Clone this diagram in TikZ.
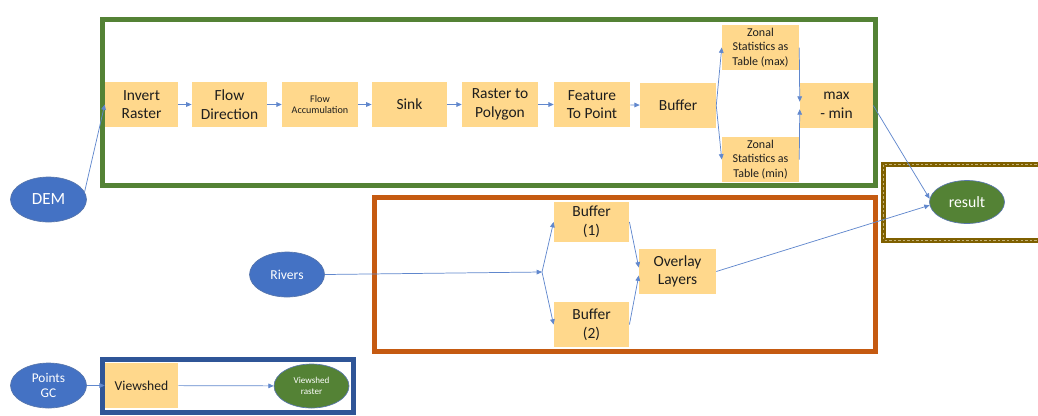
\documentclass[tikz,border=0pt]{standalone}
\usepackage{fontspec}
\setmainfont{Carlito}
\usetikzlibrary{arrows.meta,shapes,calc}
\definecolor{toolfill}{RGB}{255,216,140}
\definecolor{inputblue}{RGB}{68,114,196}
\definecolor{outgreen}{RGB}{84,130,53}
\definecolor{framegreen}{RGB}{84,130,53}
\definecolor{frameorange}{RGB}{197,90,17}
\definecolor{frameblue}{RGB}{47,85,151}
\definecolor{frameolive}{RGB}{127,96,0}
\definecolor{framedash}{RGB}{196,178,120}
\definecolor{textdark}{RGB}{30,30,30}

\begin{document}
\begin{tikzpicture}[x=0.75pt, y=-0.75pt, >={Triangle[length=4pt,width=3.5pt]},
  tool/.style={rectangle, fill=toolfill, text=textdark, align=center, inner sep=0pt,
    minimum width=56.5pt, minimum height=33.75pt, font=\fontsize{11.6}{14}\selectfont},
  zonal/.style={tool, minimum width=57.75pt, font=\fontsize{9}{11}\selectfont},
  source/.style={ellipse, fill=inputblue, draw=frameblue!80, line width=0.5pt, text=white,
    align=center, inner sep=0pt, minimum width=57pt, minimum height=33.75pt},
  product/.style={source, fill=outgreen},
  flow/.style={->, inputblue!85, line width=0.55pt}]

\useasboundingbox (0,0) rectangle (1038,415);

% group frames
\draw[framegreen, line width=3.75pt] (102.5,19.5) rectangle (875.5,185.5);
\draw[frameorange, line width=3.75pt] (374.5,197.5) rectangle (875.5,351.5);
\draw[frameblue, line width=3.75pt] (102.5,359.5) rectangle (353.5,412.5);
\draw[frameolive, line width=3.75pt] (883.5,164.5) rectangle (1045,240.5);
\draw[framedash, line width=0.7pt, dash pattern=on 1.8pt off 1.6pt] (883.5,164.5) rectangle (1045,240.5);

% DEM chain
\node[source, font=\fontsize{12.8}{14}\selectfont] (dem) at (48.5,199.5) {DEM};
\node[tool, minimum width=54.75pt] (inv) at (141.5,104.5) {Invert\\Raster};
\node[tool] (fdir) at (229.5,104.5) {Flow\\Direction};
\node[tool, minimum width=57pt, font=\fontsize{7.6}{8.6}\selectfont] (facc) at (320,104.5) {Flow\\Accumulation};
\node[tool] (sink) at (409.5,104.5) {Sink};
\node[tool, minimum width=57pt] (rtp) at (500,104.5) {Raster to\\Polygon};
\node[tool, minimum width=57pt] (ftp) at (592,104.5) {Feature\\To Point};
\node[tool, minimum width=57pt] (buf) at (678,105.5) {Buffer};
\node[zonal] (zmax) at (760.5,47.5) {Zonal\\Statistics as\\Table (max)};
\node[zonal] (zmin) at (760.5,159.5) {Zonal\\Statistics as\\Table (min)};
\node[tool, minimum width=54.75pt] (maxmin) at (836.5,105.5) {max\\- min};

\draw[flow] (dem.12) -- (inv.west);
\draw[flow] (inv) -- (fdir);
\draw[flow] (fdir) -- (facc);
\draw[flow] (facc) -- (sink);
\draw[flow] (sink) -- (rtp);
\draw[flow] (rtp) -- (ftp);
\draw[flow] (ftp) -- (buf);
\draw[flow] (buf.east) -- (zmax.west);
\draw[flow] (buf.east) -- (zmin.west);
\draw[flow] (zmax.east) -- (maxmin.174);
\draw[flow] (zmin.east) -- (maxmin.186);

% rivers chain
\node[source, minimum width=56.25pt, font=\fontsize{10.2}{12}\selectfont] (rivers) at (287,274.5) {Rivers};
\coordinate (split) at (542,272);
\node[tool, minimum height=30pt] (buf1) at (591.5,222) {Buffer\\(1)};
\node[tool] (buf2) at (591.5,324.5) {Buffer\\(2)};
\node[tool, minimum width=57.75pt] (overlay) at (677.5,271.5) {Overlay\\Layers};

\draw[flow] (rivers.east) -- (split);
\draw[flow] (split) -- (buf1.west);
\draw[flow] (split) -- (buf2.west);
\draw[flow] (buf1.east) -- (overlay.174);
\draw[flow] (buf2.east) -- (overlay.186);

% result
\node[product, minimum width=56.25pt, minimum height=32.25pt, font=\fontsize{11.8}{13}\selectfont] (res) at (967,202) {result};
\draw[flow] (maxmin.east) -- (res.175);
\draw[flow] (overlay.east) -- (res.185);

% viewshed chain
\node[source, font=\fontsize{10}{11.5}\selectfont] (pts) at (48.5,385.5) {Points\\GC};
\node[tool, minimum width=54.75pt, font=\fontsize{10.2}{12}\selectfont] (vshed) at (141.5,385.5) {Viewshed};
\node[product, minimum width=56.25pt, minimum height=33pt, font=\fontsize{6.8}{8}\selectfont] (vraster) at (311.5,386) {Viewshed\\raster};
\draw[flow] (pts) -- (vshed);
\draw[flow] (vshed) -- (vraster);

\end{tikzpicture}
\end{document}
